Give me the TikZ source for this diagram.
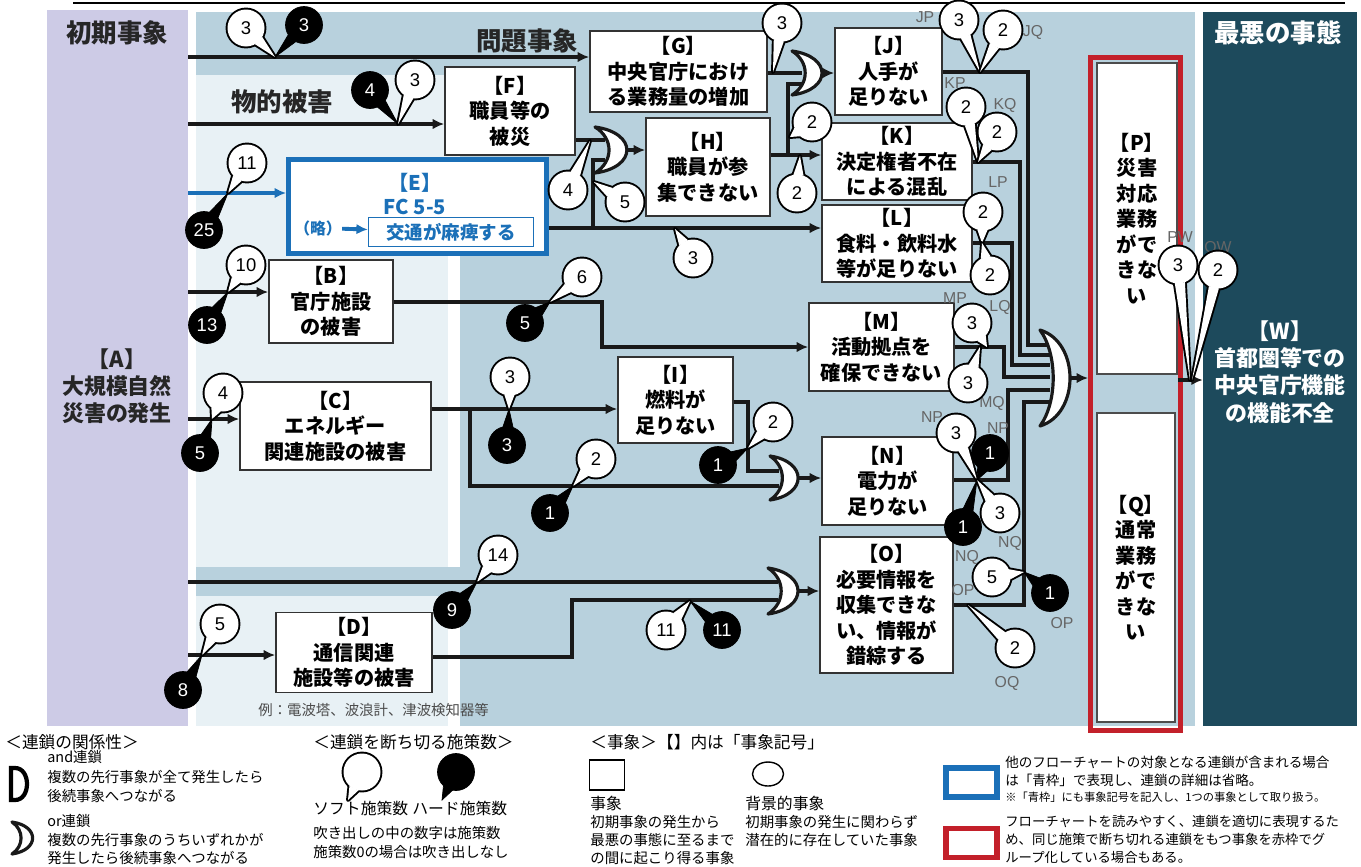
\documentclass[tikz,border=0pt]{standalone}
\usepackage{fontspec}
\setmainfont{Noto Sans CJK JP}
\newfontfamily\latinsf{Liberation Sans}
\usetikzlibrary{arrows.meta,calc,shapes.geometric}
\pgfdeclarelayer{front}
\pgfsetlayers{main,front}
\definecolor{lavender}{HTML}{CDCBE6}
\definecolor{midblue}{HTML}{B8D1DD}
\definecolor{paleblue}{HTML}{E8F1F5}
\definecolor{deepteal}{HTML}{1D4A5C}
\definecolor{frred}{HTML}{C3202A}
\definecolor{fcblue}{HTML}{1B70B8}
\newcommand{\bub}[5]{%
  \coordinate (#2c) at #3;
  \coordinate (#2t) at #5;
  \draw[#1 edge] ($(#2c)!0.37cm!16:(#2t)$) -- (#2t) -- ($(#2c)!0.37cm!-16:(#2t)$);
  \draw[#1 edge] (#2c) circle[radius=0.37cm];
  \fill[#1 body] ($(#2c)!0.37cm!16:(#2t)$) -- (#2t) -- ($(#2c)!0.37cm!-16:(#2t)$) -- cycle;
  \node[#1 bub] (#2) at (#2c) {#4};}
\newcommand{\orgate}[5]{%
  \coordinate (#1-i) at ({#2+0.3*#5},#3);
  \coordinate (#1) at ({#2+0.94*#5},#3);
  \begin{pgfonlayer}{front}
  \draw[gate] (#2,{#3-#4}) .. controls ({#2+1.25*#5},{#3-0.75*#4}) and ({#2+1.25*#5},{#3+0.75*#4}) .. (#2,{#3+#4}) .. controls ({#2+0.55*#5},{#3+0.5*#4}) and ({#2+0.55*#5},{#3-0.5*#4}) .. cycle;
  \end{pgfonlayer}}
\begin{document}
\begin{tikzpicture}[x=0.02cm,y=-0.02cm,
  ln/.style={draw=black!90,line width=2.2pt},
  arr/.style={-{Latex[length=6.5pt,width=6pt]}},
  gate/.style={draw=black!90,line width=1.8pt,fill=white,line join=round},
  ev/.style={draw=black!80,line width=1pt,fill=white,align=center,inner sep=0pt,font=\bfseries\fontsize{11.5}{14.5}\selectfont},
  ttl/.style={inner sep=0pt,text=black!85,font=\bfseries\fontsize{14.5}{16}\selectfont},
  big/.style={inner sep=0pt,align=center,font=\bfseries\fontsize{12.5}{15.5}\selectfont},
  tag/.style={inner sep=0pt,text=black!60,font=\latinsf\fontsize{9}{9}\selectfont},
  soft edge/.style={draw=black,line width=2.2pt,line join=round},
  hard edge/.style={draw=black,line width=0.4pt},
  soft body/.style={fill=white},
  hard body/.style={fill=black},
  soft bub/.style={circle,fill=white,minimum size=0.74cm,inner sep=0pt,font=\latinsf\fontsize{10.5}{10.5}\selectfont},
  hard bub/.style={circle,fill=black,text=white,minimum size=0.74cm,inner sep=0pt,font=\latinsf\fontsize{10.5}{10.5}\selectfont},
  hd/.style={anchor=west,inner sep=0pt,font=\fontsize{9.5}{10}\selectfont},
  lt/.style={anchor=west,inner sep=0pt,font=\fontsize{8.2}{9}\selectfont}]
\useasboundingbox (0,0) rectangle (1361,866);
\fill[white] (0,0) rectangle (1361,866);
\draw[line width=0.6pt] (73,3) -- (1345,3);
\fill[midblue] (196,12) rectangle (1195,726);
\fill[white] (196,253) rectangle (460,567);
\fill[white] (196,596) rectangle (460,726);
\fill[paleblue] (196,75) rectangle (460,253);
\fill[paleblue] (196,253) rectangle (448,567);
\fill[paleblue] (196,596) rectangle (448,726);
\node[fill=lavender,minimum width=2.82cm,minimum height=14.32cm,inner sep=0pt] (Apanel) at (117.5,368) {};
\node[fill=deepteal,minimum width=3.08cm,minimum height=14.28cm,inner sep=0pt] (Wpanel) at (1280,369) {};
\node[draw=frred,line width=2.8pt,minimum width=1.8cm,minimum height=13.46cm,inner sep=0pt] (grp) at (1135.5,394) {};

\node[ttl] (t1) at (117,33) {初期事象};
\node[ttl] (t2) at (527,41) {問題事象};
\node[ttl] (t3) at (282,102) {物的被害};
\node[ttl,text=white] (t4) at (1278,33) {最悪の事態};
\node[big,text=black!85] (Atxt) at (117,386) {【A】\\大規模自然\\災害の発生};
\node[big,text=white] (Wtxt) at (1280,372) {【W】\\首都圏等での\\中央官庁機能\\の機能不全};

\node[ev,minimum width=2.6cm,minimum height=1.76cm] (F) at (510,111) {【F】\\職員等の\\被災};
\node[ev,minimum width=3.54cm,minimum height=1.62cm] (G) at (678.5,71.5) {【G】\\中央官庁におけ\\る業務量の増加};
\node[ev,minimum width=2.48cm,minimum height=1.96cm] (H) at (708,167) {【H】\\職員が参\\集できない};
\node[ev,minimum width=2.14cm,minimum height=1.74cm] (J) at (888.5,71.5) {【J】\\人手が\\足りない};
\node[ev,minimum width=3cm,minimum height=1.54cm] (K) at (897,161.5) {【K】\\決定権者不在\\による混乱};
\node[ev,minimum width=3cm,minimum height=1.54cm] (L) at (897,243.5) {【L】\\食料・飲料水\\等が足りない};
\node[ev,minimum width=2.9cm,minimum height=1.76cm] (M) at (881.5,347) {【M】\\活動拠点を\\確保できない};
\node[ev,minimum width=2.3cm,minimum height=1.72cm] (I) at (675.5,400) {【I】\\燃料が\\足りない};
\node[ev,minimum width=2.62cm,minimum height=1.76cm] (N) at (887.5,481) {【N】\\電力が\\足りない};
\node[ev,minimum width=2.66cm,minimum height=2.72cm] (O) at (886.5,605) {【O】\\必要情報を\\収集できな\\い、情報が\\錯綜する};
\node[ev,minimum width=2.48cm,minimum height=1.66cm] (B) at (331,301.5) {【B】\\官庁施設\\の被害};
\node[ev,minimum width=3.82cm,minimum height=1.76cm] (C) at (335.5,426) {【C】\\エネルギー\\関連施設の被害};
\node[ev,minimum width=3.12cm,minimum height=1.6cm] (D) at (354,652.5) {【D】\\通信関連\\施設等の被害};
\node[lt,text=black!70] (Dex) at (258,710) {例：電波塔、波浪計、津波検知器等};
\node[ev,draw=black!70,minimum width=1.6cm,minimum height=6.22cm] (P) at (1137,218.5) {【P】\\災害\\対応\\業務\\がで\\きな\\い};
\node[ev,draw=black!70,minimum width=1.56cm,minimum height=6.18cm] (Q) at (1136,567.5) {【Q】\\通常\\業務\\がで\\きな\\い};

\node[ev,draw=fcblue,line width=2.8pt,minimum width=5.16cm,minimum height=1.88cm] (E) at (417.5,206.5) {};
\node[inner sep=0pt,text=fcblue,font=\bfseries\fontsize{11.5}{12}\selectfont] (Et) at (415,183) {【E】};
\node[inner sep=0pt,text=fcblue,font=\bfseries\fontsize{11.5}{12}\selectfont] (Efc) at (415,207) {FC 5-5};
\node[inner sep=0pt,text=fcblue,font=\bfseries\fontsize{9}{10}\selectfont] (Eryaku) at (318,228) {（略）};
\node[draw=fcblue,line width=0.8pt,minimum width=3.3cm,minimum height=0.58cm,inner sep=0pt,text=fcblue,font=\bfseries\fontsize{10.5}{11}\selectfont] (Einner) at (451,232) {交通が麻痺する};
\draw[line width=2.2pt,fcblue,arr] (Eryaku) -- (Einner);

\orgate{gJ}{792}{73}{22}{32}
\orgate{gH}{595}{150}{23}{34}
\orgate{gN}{770}{478}{22}{30}
\orgate{gO}{768}{591}{23}{32}
\orgate{gW}{1040}{378}{48}{32}

\draw[ln,arr] (Apanel.east |- 0,57) -- (G.west |- 0,57);
\draw[ln,arr] (Apanel.east |- 0,124) -- (F.west |- 0,124);
\draw[ln,fcblue,arr] (Apanel.east |- 0,193) -- (E.west |- 0,193);
\draw[ln,arr] (Apanel.east |- 0,292) -- (B.west |- 0,292);
\draw[ln,arr] (Apanel.east |- 0,419) -- (C.west |- 0,419);
\draw[ln] (Apanel.east |- 0,582) -- (gO-i |- 0,582);
\draw[ln,arr] (Apanel.east |- 0,655) -- (D.west |- 0,655);
\draw[ln] (D.east |- 0,657) -- (572,657) -- (572,600) -- (gO-i |- 0,600);
\draw[ln,arr] (gO) -- (O.west |- gO);
\draw[ln] (F.east |- 0,140) -- (gH-i |- 0,140);
\draw[ln,arr] (E.east |- 0,228) -- (L.west |- 0,228);
\draw[ln] (593,228) -- (593,160) -- (gH-i |- 0,160);
\draw[ln,arr] (gH) -- (H.west |- gH);
\draw[ln] (G.east |- 0,73) -- (gJ-i |- 0,73);
\draw[ln,arr] (H.east |- 0,155) -- (K.west |- 0,155);
\draw[ln] (788,155) -- (788,84) -- (gJ-i |- 0,84);
\draw[ln,arr] (gJ) -- (J.west |- gJ);
\draw[ln,arr] (B.east |- 0,302) -- (602,302) -- (602,347) -- (M.west |- 0,347);
\draw[ln,arr] (C.east |- 0,409) -- (I.west |- 0,409);
\draw[ln] (470,409) -- (470,486) -- (gN-i |- 0,486);
\draw[ln] (I.east |- 0,402) -- (748,402) -- (748,471) -- (gN-i |- 0,471);
\draw[ln,arr] (gN) -- (N.west |- gN);
\draw[ln] (J.east |- 0,72) -- (1028,72) -- (1028,345) -- (gW-i |- 0,345);
\draw[ln] (K.east |- 0,162) -- (1020,162) -- (1020,355) -- (gW-i |- 0,355);
\draw[ln] (L.east |- 0,243) -- (1012,243) -- (1012,365) -- (gW-i |- 0,365);
\draw[ln] (M.east |- 0,347) -- (1004,347) -- (1004,377) -- (gW-i |- 0,377);
\draw[ln] (N.east |- 0,480) -- (1008,480) -- (1008,390) -- (gW-i |- 0,390);
\draw[ln] (O.east |- 0,605) -- (1024,605) -- (1024,402) -- (gW-i |- 0,402);
\draw[ln,arr] (gW) -- (grp.west |- gW);
\draw[ln,arr] (P.east |- 0,380) -- (Wpanel.west |- 0,380);

\node[tag] (jp) at (925,17) {JP};
\node[tag] (jq) at (1033,32) {JQ};
\node[tag] (kp) at (955,83) {KP};
\node[tag] (kq) at (1005,105) {KQ};
\node[tag] (lp) at (998,182) {LP};
\node[tag] (lq) at (1000,307) {LQ};
\node[tag] (mp) at (955,298) {MP};
\node[tag] (mq) at (992,403) {MQ};
\node[tag] (np1) at (932,417) {NP};
\node[tag] (np2) at (998,428) {NP};
\node[tag] (nq1) at (1010,543) {NQ};
\node[tag] (nq2) at (967,557) {NQ};
\node[tag] (op1) at (963,590) {OP};
\node[tag] (op2) at (1062,623) {OP};
\node[tag] (oq) at (1007,683) {OQ};
\node[tag] (pw) at (1180,237) {PW};
\node[tag] (qw) at (1218,248) {QW};

\bub{soft}{b1}{(246,28)}{3}{(275,57)}
\bub{hard}{b2}{(304,25)}{3}{(275,57)}
\bub{hard}{b3}{(370,90)}{4}{(398,124)}
\bub{soft}{b4}{(415,80)}{3}{(398,124)}
\bub{soft}{b5}{(247,163)}{11}{(228,193)}
\bub{hard}{b6}{(204,230)}{25}{(228,193)}
\bub{soft}{b7}{(246,265)}{10}{(228,292)}
\bub{hard}{b8}{(207,325)}{13}{(228,292)}
\bub{soft}{b9}{(223,393)}{4}{(212,419)}
\bub{hard}{b10}{(200,453)}{5}{(212,419)}
\bub{soft}{b11}{(498,555)}{14}{(477,582)}
\bub{hard}{b12}{(452,610)}{9}{(477,582)}
\bub{soft}{b13}{(220,624)}{5}{(202,655)}
\bub{hard}{b14}{(183,690)}{8}{(202,655)}
\bub{soft}{b15}{(666,630)}{11}{(690,601)}
\bub{hard}{b16}{(722,630)}{11}{(690,601)}
\bub{soft}{b17}{(568,190)}{4}{(590,141)}
\bub{soft}{b18}{(625,202)}{5}{(594,182)}
\bub{soft}{b19}{(693,258)}{3}{(675,229)}
\bub{soft}{b20}{(782,23)}{3}{(773,72)}
\bub{soft}{b21}{(812,122)}{2}{(790,137)}
\bub{soft}{b22}{(797,193)}{2}{(800,156)}
\bub{soft}{b23}{(582,277)}{6}{(550,302)}
\bub{hard}{b24}{(525,323)}{5}{(550,302)}
\bub{soft}{b25}{(510,377)}{3}{(509,409)}
\bub{hard}{b26}{(507,445)}{3}{(509,409)}
\bub{soft}{b27}{(596,459)}{2}{(573,486)}
\bub{hard}{b28}{(550,513)}{1}{(573,486)}
\bub{soft}{b29}{(773,422)}{2}{(748,448)}
\bub{hard}{b30}{(718,465)}{1}{(748,448)}
\bub{soft}{b31}{(959,20)}{3}{(980,72)}
\bub{soft}{b32}{(1003,30)}{2}{(980,72)}
\bub{soft}{b33}{(966,107)}{2}{(978,162)}
\bub{soft}{b34}{(997,132)}{2}{(978,162)}
\bub{soft}{b35}{(983,212)}{2}{(982,243)}
\bub{soft}{b36}{(990,275)}{2}{(982,243)}
\bub{soft}{b37}{(972,323)}{3}{(987,347)}
\bub{soft}{b38}{(968,383)}{3}{(980,347)}
\bub{soft}{b39}{(956,433)}{3}{(977,480)}
\bub{hard}{b40}{(990,453)}{1}{(977,480)}
\bub{soft}{b41}{(1000,513)}{3}{(977,480)}
\bub{hard}{b42}{(963,527)}{1}{(977,480)}
\bub{soft}{b43}{(992,577)}{5}{(1024,572)}
\bub{hard}{b44}{(1050,593)}{1}{(1024,572)}
\bub{soft}{b45}{(1015,648)}{2}{(968,605)}
\bub{soft}{b46}{(1178,265)}{3}{(1190,380)}
\bub{soft}{b47}{(1218,270)}{2}{(1192,380)}

\node[hd] (lg1) at (5,742) {＜連鎖の関係性＞};
\node[lt] (lg2) at (47,757) {and連鎖};
\node[lt] (lg3) at (47,777) {複数の先行事象が全て発生したら};
\node[lt] (lg4) at (47,796) {後続事象へつながる};
\draw[line width=2.4pt,fill=white] (11,768) -- (15,768) .. controls (31,768) and (31,800) .. (15,800) -- (11,800) -- cycle;
\orgate{lgor}{12}{838}{16}{22}
\node[lt] (lg5) at (47,821) {or連鎖};
\node[lt] (lg6) at (47,840) {複数の先行事象のうちいずれかが};
\node[lt] (lg7) at (47,858) {発生したら後続事象へつながる};
\node[hd] (lg8) at (313,742) {＜連鎖を断ち切る施策数＞};
\bub{soft}{lgs}{(362,772)}{}{(348,800)}
\bub{hard}{lgh}{(456,772)}{}{(442,800)}
\node[lt,font=\fontsize{9}{10}\selectfont] (lg9) at (313,808) {ソフト施策数};
\node[lt,font=\fontsize{9}{10}\selectfont] (lg10) at (412,808) {ハード施策数};
\node[lt] (lg11) at (313,833) {吹き出しの中の数字は施策数};
\node[lt] (lg12) at (313,852) {施策数0の場合は吹き出しなし};
\node[hd] (lg13) at (590,742) {＜事象＞【】内は「事象記号」};
\node[draw,line width=0.8pt,minimum width=0.7cm,minimum height=0.6cm,inner sep=0pt] (lgbox) at (607,775) {};
\node[draw,ellipse,line width=0.8pt,minimum width=0.62cm,minimum height=0.48cm,inner sep=0pt] (lgell) at (768,774) {};
\node[lt,font=\fontsize{9}{10}\selectfont] (lg14) at (590,803) {事象};
\node[lt] (lg15) at (590,822) {初期事象の発生から};
\node[lt] (lg16) at (590,840) {最悪の事態に至るまで};
\node[lt] (lg17) at (590,858) {の間に起こり得る事象};
\node[lt,font=\fontsize{9}{10}\selectfont] (lg18) at (745,803) {背景的事象};
\node[lt] (lg19) at (745,822) {初期事象の発生に関わらず};
\node[lt] (lg20) at (745,840) {潜在的に存在していた事象};
\node[draw=fcblue,line width=3pt,minimum width=1.02cm,minimum height=0.58cm,inner sep=0pt] (lgblue) at (971.5,782.5) {};
\node[draw=frred,line width=3pt,minimum width=1.02cm,minimum height=0.58cm,inner sep=0pt] (lgred) at (971.5,843) {};
\node[lt,font=\fontsize{7.7}{9}\selectfont] (lg21) at (1005,762) {他のフローチャートの対象となる連鎖が含まれる場合};
\node[lt,font=\fontsize{7.7}{9}\selectfont] (lg22) at (1005,780) {は「青枠」で表現し、連鎖の詳細は省略。};
\node[lt,font=\fontsize{6.4}{8}\selectfont] (lg23) at (1005,797) {※「青枠」にも事象記号を記入し、1つの事象として取り扱う。};
\node[lt,font=\fontsize{7.6}{9}\selectfont] (lg24) at (1005,821) {フローチャートを読みやすく、連鎖を適切に表現するた};
\node[lt,font=\fontsize{7.6}{9}\selectfont] (lg25) at (1005,839) {め、同じ施策で断ち切れる連鎖をもつ事象を赤枠でグ};
\node[lt,font=\fontsize{7.6}{9}\selectfont] (lg26) at (1005,857) {ループ化している場合もある。};
\end{tikzpicture}
\end{document}
